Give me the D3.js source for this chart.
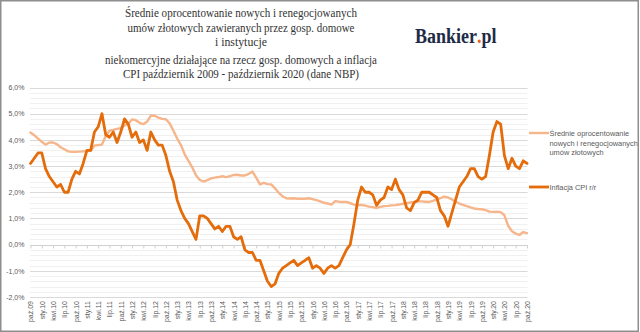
<!DOCTYPE html>
<html>
<head>
<meta charset="utf-8">
<script src="https://cdn.jsdelivr.net/npm/d3@7"></script>
<style>
  html, body { margin: 0; padding: 0; background: #fff; }
  svg { display: block; }
</style>
</head>
<body>
<svg id="chart" width="640" height="332"></svg>
<script>
// ---------------- DATA ----------------
const titleLines = [
  "Średnie oprocentowanie nowych i renegocjowanych",
  "umów złotowych zawieranych przez gosp. domowe",
  "i instytucje",
  "niekomercyjne działające na rzecz gosp. domowych a inflacja",
  "CPI  październik 2009 - październik 2020 (dane NBP)"
];
const seriesNames = ["Średnie oprocentowanie nowych i renegocjowanych umów złotowych", "Inflacja CPI r/r"];

// monthly categories, Oct 2009 .. Oct 2020 (133 months)
const categories = d3.timeMonth.range(new Date(2009, 9, 1), new Date(2020, 10, 1)).map(d3.timeFormat("%Y-%m"));

// average rate on new & renegotiated PLN deposits (%)
const rates = [
  4.28, 4.18, 4.05,
  3.93, 3.82, 3.90, 3.90, 3.84, 3.72, 3.64, 3.56, 3.54, 3.54, 3.55, 3.56,
  3.57, 3.58, 3.78, 3.80, 3.82, 4.15, 4.35, 4.38, 4.42, 4.45, 4.55, 4.62,
  4.78, 4.75, 4.65, 4.60, 4.70, 4.93, 4.92, 4.85, 4.80, 4.79, 4.63, 4.35,
  4.05, 3.80, 3.45, 3.20, 2.95, 2.65, 2.47, 2.41, 2.46, 2.53, 2.56, 2.58,
  2.61, 2.58, 2.61, 2.66, 2.67, 2.64, 2.64, 2.70, 2.79, 2.56, 2.30, 2.36,
  2.31, 2.30, 2.15, 1.98, 1.85, 1.77, 1.76, 1.77, 1.75, 1.75, 1.75, 1.77,
  1.74, 1.70, 1.65, 1.60, 1.57, 1.53, 1.66, 1.64, 1.63, 1.63, 1.58, 1.53,
  1.50, 1.52, 1.49, 1.45, 1.43, 1.40, 1.44, 1.47, 1.48, 1.50, 1.51, 1.53,
  1.56, 1.58, 1.61, 1.63, 1.65, 1.65, 1.64, 1.63, 1.67, 1.73, 1.78, 1.83,
  1.80, 1.73, 1.64, 1.57, 1.52, 1.47, 1.42, 1.38, 1.36, 1.35, 1.32, 1.26,
  1.25, 1.26, 1.24, 1.12, 0.72, 0.51, 0.42, 0.37, 0.48, 0.44
];

// CPI y/y (%)
const cpi = [
  3.1, 3.3, 3.5,
  3.5, 2.9, 2.6, 2.4, 2.2, 2.3, 2.0, 2.0, 2.5, 2.8, 2.7, 3.1,
  3.6, 3.6, 4.3, 4.5, 5.0, 4.2, 4.1, 4.3, 3.9, 4.3, 4.8, 4.6,
  4.1, 4.3, 3.9, 4.0, 3.6, 4.3, 4.0, 3.8, 3.8, 3.4, 2.8, 2.4,
  1.7, 1.3, 1.0, 0.8, 0.5, 0.2, 1.1, 1.1, 1.0, 0.8, 0.6, 0.7,
  0.5, 0.7, 0.7, 0.3, 0.2, 0.3, -0.2, -0.3, -0.3, -0.6, -0.6, -1.0,
  -1.4, -1.6, -1.5, -1.1, -0.9, -0.8, -0.7, -0.6, -0.8, -0.7, -0.6, -0.5,
  -0.9, -0.8, -0.9, -1.1, -0.9, -0.8, -0.9, -0.8, -0.5, -0.2, 0.0, 0.8,
  1.7, 2.2, 2.0, 2.0, 1.9, 1.5, 1.7, 1.8, 2.2, 2.1, 2.5, 2.1,
  1.9, 1.4, 1.3, 1.6, 1.7, 2.0, 2.0, 2.0, 1.9, 1.8, 1.3, 1.1,
  0.7, 1.2, 1.7, 2.2, 2.4, 2.6, 2.9, 2.9, 2.6, 2.5, 2.6, 3.4,
  4.3, 4.7, 4.6, 3.4, 2.9, 3.3, 3.0, 2.9, 3.2, 3.1
];

const yTicks = [-2, -1, 0, 1, 2, 3, 4, 5, 6];
const yTickLabels = ["-2,0%", "-1,0%", "0,0%", "1,0%", "2,0%", "3,0%", "4,0%", "5,0%", "6,0%"];
const xTickLabels = [
  "paź.09",
  "sty.10","kwi.10","lip.10","paź.10",
  "sty.11","kwi.11","lip.11","paź.11",
  "sty.12","kwi.12","lip.12","paź.12",
  "sty.13","kwi.13","lip.13","paź.13",
  "sty.14","kwi.14","lip.14","paź.14",
  "sty.15","kwi.15","lip.15","paź.15",
  "sty.16","kwi.16","lip.16","paź.16",
  "sty.17","kwi.17","lip.17","paź.17",
  "sty.18","kwi.18","lip.18","paź.18",
  "sty.19","kwi.19","lip.19","paź.19",
  "sty.20","kwi.20","lip.20","paź.20"
];

// ---------------- DRAW ----------------
const svg = d3.select("#chart");
const W = 640, H = 332;
const colLight = "#F6B58A", colDark = "#E46C0A";
const labelFont = "'Liberation Sans', Arial, sans-serif";

svg.append("rect").attr("width", W).attr("height", H).attr("fill", "#fff");

const x = d3.scalePoint().domain(categories).range([30.5, 527]);
const y = d3.scaleLinear().domain([-2, 6]).range([297, 87.5]);
const x0 = 30, x1 = 527.5;

// minor gridlines
const minor = d3.range(-20, 61, 2).map(v => v / 10).filter(v => Math.abs(v - Math.round(v)) > 1e-9);
svg.append("g").selectAll("line").data(minor).join("line")
  .attr("x1", x0).attr("x2", x1)
  .attr("y1", d => Math.round(y(d)) + 0.5).attr("y2", d => Math.round(y(d)) + 0.5)
  .attr("stroke", "#f0f0f0").attr("stroke-width", 1);
// major gridlines
svg.append("g").selectAll("line").data(yTicks.filter(v => v !== 0)).join("line")
  .attr("x1", x0).attr("x2", x1)
  .attr("y1", d => Math.round(y(d)) + 0.5).attr("y2", d => Math.round(y(d)) + 0.5)
  .attr("stroke", "#d9d9d9").attr("stroke-width", 1);

// y axis labels
const yAxis = d3.axisLeft(y).tickValues(yTicks).tickSize(0).tickPadding(0)
  .tickFormat((d, i) => yTickLabels[i]);
const gy = svg.append("g").attr("transform", "translate(24.5,0)").call(yAxis);
gy.select(".domain").remove();
gy.selectAll("text").attr("font-family", labelFont).attr("font-size", 7).attr("fill", "#595959");

// x axis line at 0% with tick marks
const tickCats = categories.filter((d, i) => i % 3 === 0);
const xAxisLine = d3.axisBottom(x).tickValues(tickCats).tickSize(3).tickSizeOuter(0).tickFormat("");
const gx = svg.append("g").attr("transform", `translate(0,${Math.round(y(0)) + 0.5})`).call(xAxisLine);
gx.select(".domain").attr("stroke", "#d0d0d0").attr("d", `M${x0},0H${x1}`);
gx.selectAll(".tick line").attr("stroke", "#d0d0d0");

// x labels at bottom
const xAxisLab = d3.axisBottom(x).tickValues(tickCats).tickSize(0)
  .tickFormat((d, i) => xTickLabels[i]);
const gxl = svg.append("g").attr("transform", "translate(0,301)").call(xAxisLab);
gxl.select(".domain").remove();
gxl.selectAll("text")
  .attr("font-family", labelFont).attr("font-size", 7).attr("fill", "#595959")
  .attr("transform", "rotate(-90)")
  .attr("text-anchor", "end")
  .attr("x", 0).attr("y", 0).attr("dy", "0.35em");

// lines
const line = d3.line().x((d, i) => x(categories[i])).y(d => y(d)).curve(d3.curveLinear);
svg.append("path").datum(rates).attr("d", line)
  .attr("fill", "none").attr("stroke", colLight).attr("stroke-width", 2.4)
  .attr("stroke-linejoin", "round").attr("stroke-linecap", "round");
svg.append("path").datum(cpi).attr("d", line)
  .attr("fill", "none").attr("stroke", colDark).attr("stroke-width", 2.8)
  .attr("stroke-linejoin", "round").attr("stroke-linecap", "round");

// legend
const lg = svg.append("g");
lg.append("line").attr("x1", 529).attr("x2", 549).attr("y1", 133).attr("y2", 133)
  .attr("stroke", colLight).attr("stroke-width", 2.4);
const legendLines1 = ["Średnie oprocentowanie", "nowych i renegocjowanych", "umów złotowych"];
lg.selectAll("text.l1").data(legendLines1).join("text").attr("class", "l1")
  .attr("x", 549.5).attr("y", (d, i) => 136 + i * 9.5)
  .attr("font-family", labelFont).attr("font-size", 7.4).attr("fill", "#595959")
  .text(d => d);
lg.append("line").attr("x1", 529).attr("x2", 549).attr("y1", 187).attr("y2", 187)
  .attr("stroke", colDark).attr("stroke-width", 2.8);
lg.append("text").attr("x", 549.5).attr("y", 190)
  .attr("font-family", labelFont).attr("font-size", 7.4).attr("fill", "#595959")
  .text(seriesNames[1]);

// title
const titleY = [16.8, 31.8, 46, 63.5, 78.4];
const titleW = [232, 227, 52, 272, 236];
svg.append("g").selectAll("text").data(titleLines).join("text")
  .attr("x", 241).attr("y", (d, i) => titleY[i])
  .attr("text-anchor", "middle")
  .attr("font-family", "'Liberation Serif', 'Times New Roman', serif")
  .attr("font-size", 13.5).attr("fill", "#333333")
  .attr("textLength", (d, i) => titleW[i]).attr("lengthAdjust", "spacingAndGlyphs")
  .text(d => d);

// logo
const logo = svg.append("text").attr("transform", "translate(415,42.7) scale(0.9,1)")
  .attr("font-family", "'Liberation Serif', 'Times New Roman', serif")
  .attr("font-weight", "bold").attr("font-size", 20).attr("fill", "#1d2b47");
logo.append("tspan").text("Bankier");
logo.append("tspan").attr("fill", "#e8622c").text(".");
logo.append("tspan").text("pl");

// frame
svg.append("rect").attr("x", 0.75).attr("y", 0.75).attr("width", 637.5).attr("height", 330.5)
  .attr("fill", "none").attr("stroke", "#8e8e8e").attr("stroke-width", 1.5);
</script>
</body>
</html>
